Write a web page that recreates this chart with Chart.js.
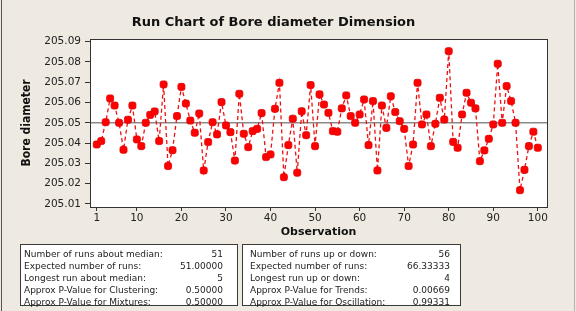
<!DOCTYPE html>
<html>
<head>
<meta charset="utf-8">
<script src="https://cdn.jsdelivr.net/npm/chart.js@4.4.1/dist/chart.umd.min.js"></script>
<style>
  html, body { margin:0; padding:0; background:#EEEAE1; }
  #wrap { position:relative; width:576px; height:311px; overflow:hidden; background:#EEEAE1; }
  #c { position:absolute; left:0; top:0; }
  .edgeL { position:absolute; left:1px; top:0; width:1px; height:311px; background:#555; }
  .edgeR { position:absolute; left:574px; top:0; width:1px; height:311px; background:#b5b2ab; }
  .box { position:absolute; top:244px; height:62px; background:#fff; border:1px solid #3a3a3a; box-sizing:border-box;
         font-family:"DejaVu Sans", Verdana, sans-serif; font-size:9px; color:#222; padding-top:4px; }
  .row { display:flex; justify-content:space-between; height:11.9px; line-height:11.9px; white-space:nowrap; }
</style>
</head>
<body>
<div id="wrap">
  <canvas id="c" width="576" height="311"></canvas>
  <div class="edgeL"></div><div class="edgeR"></div>
  <div class="box" id="box1" style="left:20px; width:218px; padding-left:3px; padding-right:14px;"></div>
  <div class="box" id="box2" style="left:242px; width:219px; padding-left:7px; padding-right:10px;"></div>
</div>
<script>
// ---- data ----
const observations = Array.from({length: 100}, (_, i) => i + 1);
const boreDiameter = [
  205.0393, 205.0410, 205.0503, 205.0620, 205.0585, 205.0500, 205.0367, 205.0515, 205.0585, 205.0418,
  205.0385, 205.0500, 205.0539, 205.0556, 205.0410, 205.0689, 205.0287, 205.0365, 205.0533, 205.0677,
  205.0595, 205.0511, 205.0451, 205.0546, 205.0265, 205.0405, 205.0503, 205.0443, 205.0602, 205.0487,
  205.0454, 205.0314, 205.0643, 205.0446, 205.0380, 205.0459, 205.0470, 205.0548, 205.0331, 205.0344,
  205.0569, 205.0697, 205.0232, 205.0390, 205.0520, 205.0254, 205.0557, 205.0439, 205.0686, 205.0385,
  205.0640, 205.0590, 205.0549, 205.0459, 205.0456, 205.0571, 205.0635, 205.0533, 205.0500, 205.0541,
  205.0615, 205.0390, 205.0607, 205.0265, 205.0585, 205.0475, 205.0631, 205.0553, 205.0508, 205.0470,
  205.0287, 205.0393, 205.0697, 205.0492, 205.0541, 205.0385, 205.0495, 205.0623, 205.0516, 205.0853,
  205.0406, 205.0377, 205.0541, 205.0648, 205.0599, 205.0571, 205.0311, 205.0364, 205.0421, 205.0492,
  205.0791, 205.0500, 205.0681, 205.0607, 205.0500, 205.0168, 205.0268, 205.0385, 205.0456, 205.0377
];
const medianValue = 205.05;
const xTickValues = [1, 10, 20, 30, 40, 50, 60, 70, 80, 90, 100];
const yTickValues = [205.01, 205.02, 205.03, 205.04, 205.05, 205.06, 205.07, 205.08, 205.09];

const medianLabels = ["Number of runs about median:", "Expected number of runs:", "Longest run about median:",
                      "Approx P-Value for Clustering:", "Approx P-Value for Mixtures:"];
const medianStats  = ["51", "51.00000", "5", "0.50000", "0.50000"];
const upDownLabels = ["Number of runs up or down:", "Expected number of runs:", "Longest run up or down:",
                      "Approx P-Value for Trends:", "Approx P-Value for Oscillation:"];
const upDownStats  = ["56", "66.33333", "4", "0.00669", "0.99331"];

function fillBox(id, labels, vals) {
  const el = document.getElementById(id);
  labels.forEach((l, i) => {
    const r = document.createElement('div'); r.className = 'row';
    const a = document.createElement('span'); a.textContent = l;
    const b = document.createElement('span'); b.textContent = vals[i];
    r.appendChild(a); r.appendChild(b); el.appendChild(r);
  });
}
fillBox('box1', medianLabels, medianStats);
fillBox('box2', upDownLabels, upDownStats);

const XMIN = -0.52, XMAX = 102.06;

const framePlugin = {
  id: 'frame',
  beforeDraw(chart) {
    const {ctx, chartArea: a} = chart;
    ctx.save();
    ctx.fillStyle = '#EEEAE1';
    ctx.fillRect(0, 0, chart.width, chart.height);
    ctx.fillStyle = '#ffffff';
    ctx.fillRect(a.left, a.top, a.right - a.left, a.bottom - a.top);
    ctx.restore();
  },
  afterDraw(chart) {
    const {ctx, chartArea: a} = chart;
    ctx.save();
    ctx.strokeStyle = '#333333';
    ctx.lineWidth = 1;
    ctx.strokeRect(Math.round(a.left) + 0.5, Math.round(a.top) + 0.5,
                   Math.round(a.right - a.left), Math.round(a.bottom - a.top));
    ctx.restore();
  }
};

const tickFont = {family: '"DejaVu Sans", Verdana, sans-serif', size: 10.5};

new Chart(document.getElementById('c'), {
  type: 'line',
  data: {
    datasets: [
      {
        label: 'Median',
        data: [{x: XMIN, y: medianValue}, {x: XMAX, y: medianValue}],
        borderColor: '#8a8a8a',
        borderWidth: 1.5,
        pointRadius: 0,
        order: 2
      },
      {
        label: 'Bore diameter',
        data: observations.map((o, i) => ({x: o, y: boreDiameter[i]})),
        borderColor: '#F01010',
        borderWidth: 1.3,
        borderDash: [4, 3],
        backgroundColor: '#FF0000',
        pointBackgroundColor: '#FF0000',
        pointBorderColor: '#E00000',
        pointBorderWidth: 0.8,
        pointStyle: 'rectRounded',
        pointRadius: 4.1,
        tension: 0,
        order: 1
      }
    ]
  },
  plugins: [framePlugin],
  options: {
    responsive: false,
    animation: false,
    devicePixelRatio: 1,
    layout: {padding: {left: 0, right: 29, top: 0, bottom: 71}},
    plugins: {
      legend: {display: false},
      tooltip: {enabled: false},
      title: {
        display: true,
        text: 'Run Chart of Bore diameter Dimension',
        color: '#111',
        font: {family: '"DejaVu Sans", Verdana, sans-serif', size: 13, weight: 'bold', lineHeight: 1.2},
        padding: {top: 15, bottom: 8.4}
      }
    },
    scales: {
      x: {
        type: 'linear',
        min: XMIN, max: XMAX,
        afterBuildTicks(scale) { scale.ticks = xTickValues.map(v => ({value: v})); },
        afterFit(scale) { scale.height = 33; },
        ticks: {color: '#222', font: tickFont, padding: 1, maxRotation: 0, autoSkip: false,
                callback: v => String(v)},
        grid: {display: true, drawOnChartArea: false, drawTicks: true, tickLength: 4, tickColor: '#333'},
        border: {display: true, color: '#333'},
        title: {display: true, text: 'Observation', color: '#111',
                font: {family: '"DejaVu Sans", Verdana, sans-serif', size: 11, weight: 'bold', lineHeight: 1.2},
                padding: {top: 0, bottom: 1.4}}
      },
      y: {
        type: 'linear',
        min: 205.0085, max: 205.0913,
        afterBuildTicks(scale) { scale.ticks = yTickValues.map(v => ({value: v})); },
        afterFit(scale) { scale.width = 90; },
        ticks: {color: '#222', font: tickFont, padding: 4, autoSkip: false,
                callback: v => Number(v).toFixed(2)},
        grid: {display: true, drawOnChartArea: false, drawTicks: true, tickLength: 5, tickColor: '#333'},
        border: {display: true, color: '#333'},
        title: {display: true, text: 'Bore diameter', color: '#111',
                font: {family: '"Liberation Sans Narrow", "DejaVu Sans Condensed", "Arial Narrow", sans-serif', size: 12, weight: 'bold', lineHeight: 1.2},
                padding: {top: 20, bottom: 0}}
      }
    }
  }
});
</script>
</body>
</html>
